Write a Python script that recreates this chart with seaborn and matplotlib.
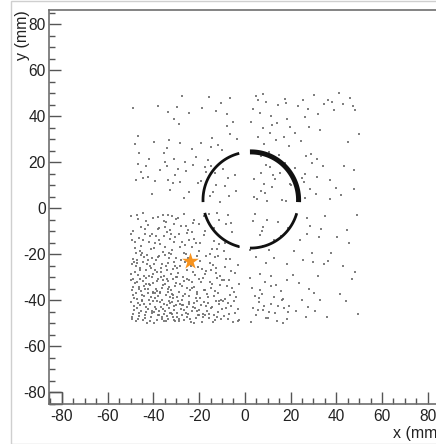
import numpy as np
import pandas as pd
import matplotlib
matplotlib.use("Agg")
import matplotlib.pyplot as plt
from matplotlib.patches import Rectangle
import seaborn as sns

# ---------------- data ----------------
# hit counts per 10 mm cell, rows from y=50..40 (top) down to y=-40..-50,
# columns from x=-50..-40 (left) to x=40..50
cell_x_edges = [-50, -40, -30, -20, -10, 0, 10, 20, 30, 40, 50]
cell_y_edges = [50, 40, 30, 20, 10, 0, -10, -20, -30, -40, -50]
cell_counts = [
    [1, 2, 3, 4, 3, 8, 4, 3, 6, 5],
    [1, 1, 1, 1, 5, 4, 6, 3, 1, 1],
    [3, 5, 4, 4, 2, 3, 5, 3, 1, 1],
    [6, 7, 5, 6, 4, 5, 6, 6, 3, 2],
    [2, 1, 3, 3, 6, 7, 4, 4, 4, 3],
    [12, 15, 9, 7, 5, 8, 4, 3, 3, 2],
    [15, 15, 12, 9, 6, 3, 3, 4, 2, 2],
    [24, 21, 17, 13, 8, 4, 3, 3, 3, 2],
    [30, 30, 21, 17, 12, 8, 6, 3, 1, 2],
    [30, 35, 30, 24, 15, 10, 12, 3, 3, 2],
]
# dead gaps of the four-quadrant detector (mm)
gap_x = (-2.4, 2.3)
gap_y = (-2.2, 2.6)

# ring of hits
ring_center = (2.6, 3.5)
ring_radius = 20.9
arc_start_deg = [104.0, 195.6, 269.0, 357.5]
arc_end_deg = [182.5, 256.0, 344.0, 451.0]
arc_width_pt = [2.0, 2.0, 2.0, 3.6]

# marked source position
star_x = [-24.0]
star_y = [-22.9]

x_major = [-80, -60, -40, -20, 0, 20, 40, 60, 80]
y_major = [-80, -60, -40, -20, 0, 20, 40, 60, 80]
xlim = (-85.65, 85.35)
ylim = (-85.2, 86.1)


# ---------------- place hits inside their cells (deterministic Halton) ----
def halton(i, b):
    f, r = 1.0, 0.0
    while i > 0:
        f /= b
        r += f * (i % b)
        i //= b
    return r


px, py = [], []
for r, row in enumerate(cell_counts):
    y_hi, y_lo = cell_y_edges[r], cell_y_edges[r + 1]
    for c, n in enumerate(row):
        x_lo, x_hi = cell_x_edges[c], cell_x_edges[c + 1]
        off = 1000 + 173 * (r * 10 + c)
        for k in range(n):
            u = halton(off + 7 * k, 2)
            v = halton(off + 7 * k, 3)
            xx = x_lo + (x_hi - x_lo) * u
            yy = y_lo + (y_hi - y_lo) * v
            if gap_x[0] < xx < gap_x[1] or gap_y[0] < yy < gap_y[1]:
                continue
            px.append(xx)
            py.append(yy)
hits = pd.DataFrame({"x": px, "y": py})

# ---------------- figure ----------------
sns.set_theme(style="white")
plt.rcParams["font.family"] = ["Liberation Sans", "DejaVu Sans"]

W, H = 436, 444
fig = plt.figure(figsize=(W / 100, H / 100), dpi=100)
fig.patch.set_facecolor("white")
ax = fig.add_axes([49 / W, (H - 404) / H, 391 / W, 394 / H])
ax.set_facecolor("white")

sns.scatterplot(data=hits, x="x", y="y", ax=ax, s=1.3, marker="s",
                color="#6a6a6a", linewidth=0, alpha=0.85, legend=False)

cx, cy = ring_center
for a0, a1_, lw in zip(arc_start_deg, arc_end_deg, arc_width_pt):
    t = np.radians(np.linspace(a0, a1_, 120))
    arc = pd.DataFrame({"x": cx + ring_radius * np.cos(t),
                        "y": cy + ring_radius * np.sin(t)})
    sns.lineplot(data=arc, x="x", y="y", ax=ax, sort=False, estimator=None,
                 color="#111111", linewidth=lw, solid_capstyle="butt")

sns.scatterplot(x=star_x, y=star_y, ax=ax, marker="*", s=160,
                color="#f7931e", linewidth=0, legend=False, zorder=5)

ax.set_xlim(*xlim)
ax.set_ylim(*ylim)
ax.set_xticks(x_major)
ax.set_yticks(y_major)
ax.set_xticks(np.arange(-85, 86, 5), minor=True)
ax.set_yticks(np.arange(-85, 86, 5), minor=True)
ax.set_xticklabels([str(v) for v in x_major])
ax.set_yticklabels([str(v) for v in y_major])
ax.tick_params(which="both", bottom=True, left=True, top=False, right=False)
ax.tick_params(which="major", direction="in", length=8.6, width=1.0,
               color="#555555", labelsize=11.2, labelcolor="#222222")
ax.tick_params(which="minor", direction="in", length=4.3, width=1.0,
               color="#555555")
ax.tick_params(axis="x", which="major", pad=3.5)
ax.tick_params(axis="y", which="major", pad=2.5)
ax.set_xlabel("")
ax.set_ylabel("")
for side in ["left", "bottom", "top"]:
    ax.spines[side].set_color("#6e6e6e")
    ax.spines[side].set_linewidth(1.2)
ax.spines["right"].set_visible(False)
ax.grid(False)

# small frame box in the corner
ax.add_patch(Rectangle((xlim[0], ylim[0]), -80 - xlim[0], -80 - ylim[0],
                       fill=False, ec="#555555", lw=1.0, clip_on=False))

# axis titles
fig.text(22 / W, (H - 10) / H, "y (mm)", rotation=90, ha="center", va="top",
         fontsize=11.5, color="#222222")
fig.text(393 / W, (H - 438) / H, "x (mm)", ha="left", va="baseline",
         fontsize=11.5, color="#222222")

# outer pad border
fig.add_artist(Rectangle((10.5 / W, 0.5 / H), 500 / W, 442.5 / H,
                         transform=fig.transFigure, fill=False,
                         ec="#cfcfcf", lw=1.0))

fig.savefig("out.png", dpi=100)
